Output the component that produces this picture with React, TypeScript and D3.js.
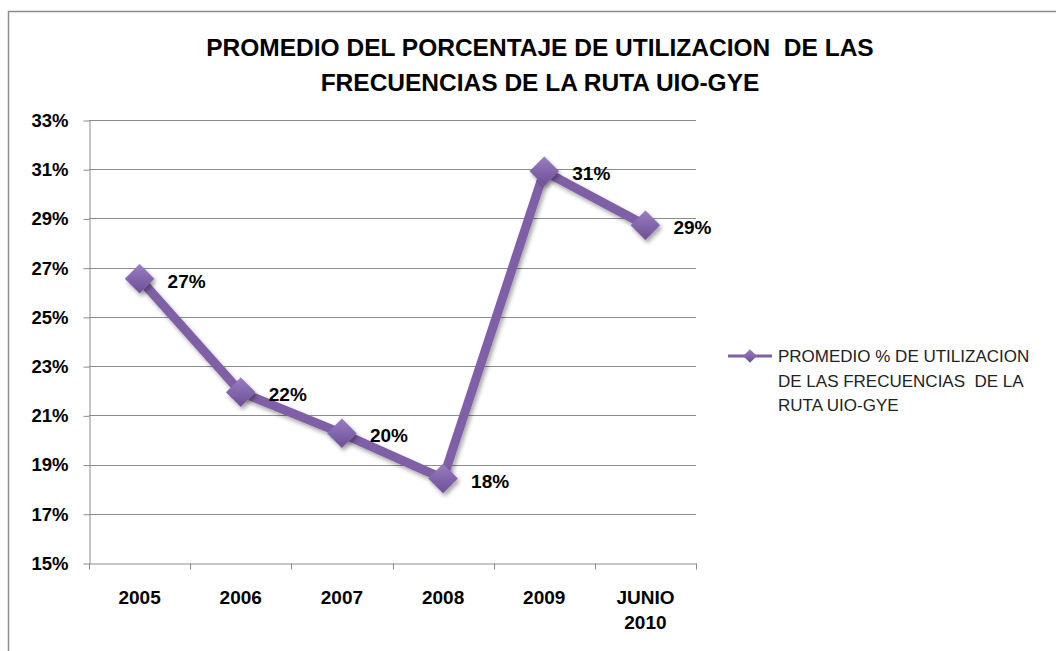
import React, { useRef, useEffect } from 'react';
import * as d3 from 'd3';

const categories = ['2005', '2006', '2007', '2008', '2009', 'JUNIO 2010'];
const values = [0.2655, 0.2194, 0.2027, 0.1843, 0.3092, 0.2872];
const yTicks = [0.15, 0.17, 0.19, 0.21, 0.23, 0.25, 0.27, 0.29, 0.31, 0.33];
const titleLines = ['PROMEDIO DEL PORCENTAJE DE UTILIZACION  DE LAS', 'FRECUENCIAS DE LA RUTA UIO-GYE'];
const legendLines = ['PROMEDIO % DE UTILIZACION', 'DE LAS FRECUENCIAS  DE LA', 'RUTA UIO-GYE'];

const FONT = '"Liberation Sans", Arial, sans-serif';
const PURPLE = '#7f61a6';

export default function App() {
    const ref = useRef<SVGSVGElement>(null);

    useEffect(() => {
        if (!ref.current) return;
        const svg = d3.select(ref.current);
        svg.selectAll('*').remove();

        const width = 1056;
        const height = 651;
        const plot = { left: 89, right: 696, top: 120, bottom: 563 };

        const defs = svg.append('defs');
        const grad = defs.append('linearGradient')
            .attr('id', 'mk').attr('x1', 0).attr('y1', 0).attr('x2', 0).attr('y2', 1);
        grad.append('stop').attr('offset', '0%').attr('stop-color', '#9a7cc2');
        grad.append('stop').attr('offset', '100%').attr('stop-color', '#6c4f96');
        const shadow = defs.append('filter').attr('id', 'sh')
            .attr('x', '-50%').attr('y', '-50%').attr('width', '200%').attr('height', '200%');
        shadow.append('feDropShadow').attr('dx', 2).attr('dy', 3).attr('stdDeviation', 2)
            .attr('flood-color', '#000').attr('flood-opacity', 0.35);

        // chart area border (only top and left visible)
        svg.append('path')
            .attr('d', `M8.5,${height + 5}V11.5H${width + 5}`)
            .attr('fill', 'none').attr('stroke', '#8c8c8c').attr('stroke-width', 1.5);

        const x = d3.scaleBand().domain(categories).range([plot.left, plot.right]);
        const y = d3.scaleLinear().domain([0.15, 0.33]).range([plot.bottom, plot.top]);

        // title
        svg.append('text')
            .attr('x', 540).attr('y', 56)
            .attr('text-anchor', 'middle')
            .style('font-family', FONT).style('font-weight', 'bold').style('font-size', '24.5px')
            .style('white-space', 'pre')
            .selectAll('tspan')
            .data(titleLines)
            .enter()
            .append('tspan')
            .attr('x', 540)
            .attr('dy', (d, i) => (i === 0 ? 0 : 35))
            .text(d => d);

        // grid lines
        svg.append('g')
            .selectAll('line')
            .data(yTicks.slice(1))
            .enter()
            .append('line')
            .attr('x1', plot.left).attr('x2', plot.right)
            .attr('y1', d => Math.round(y(d)) + 0.5).attr('y2', d => Math.round(y(d)) + 0.5)
            .attr('stroke', '#8c8c8c').attr('stroke-width', 1);

        // y axis
        const yAxis = svg.append('g')
            .attr('transform', `translate(${plot.left + 0.5},0.5)`)
            .call(d3.axisLeft(y).tickValues(yTicks).tickFormat(d3.format('.0%')).tickSize(6).tickSizeOuter(0));
        yAxis.selectAll('line, path').attr('stroke', '#8c8c8c');
        yAxis.selectAll('text')
            .attr('x', -21)
            .style('font-family', FONT).style('font-weight', 'bold').style('font-size', '18.5px')
            .attr('fill', '#000');

        // x axis
        const xAxis = svg.append('g')
            .attr('transform', `translate(0.5,${plot.bottom + 0.5})`)
            .call(d3.axisBottom(x).tickSize(0).tickSizeOuter(0));
        xAxis.select('.domain').attr('stroke', '#8c8c8c');
        xAxis.selectAll('.tick line').remove();
        xAxis.selectAll('.tick text').remove();
        xAxis.selectAll('.sep')
            .data([...categories.map(c => x(c) as number), plot.right])
            .enter()
            .append('line')
            .attr('x1', d => Math.round(d)).attr('x2', d => Math.round(d))
            .attr('y1', 0).attr('y2', 6)
            .attr('stroke', '#8c8c8c');

        const xLabels = svg.append('g')
            .selectAll('text')
            .data(categories)
            .enter()
            .append('text')
            .attr('text-anchor', 'middle')
            .style('font-family', FONT).style('font-weight', 'bold').style('font-size', '19px');
        xLabels.selectAll('tspan')
            .data(d => d.split(' ').map(t => ({ t, c: d })))
            .enter()
            .append('tspan')
            .attr('x', d => (x(d.c) as number) + x.bandwidth() / 2)
            .attr('y', (d, i) => 604 + i * 25)
            .text(d => d.t);

        // series
        const pts = values.map((v, i) => ({ c: categories[i], v }));
        const line = d3.line<{ c: string; v: number }>()
            .x(d => (x(d.c) as number) + x.bandwidth() / 2)
            .y(d => y(d.v));

        svg.append('path')
            .datum(pts)
            .attr('d', line)
            .attr('fill', 'none')
            .attr('stroke', PURPLE).attr('stroke-width', 9)
            .attr('stroke-linejoin', 'round')
            .attr('filter', 'url(#sh)');

        const diamond = d3.symbol().type(d3.symbolDiamond2).size(540);
        svg.append('g')
            .selectAll('path')
            .data(pts)
            .enter()
            .append('path')
            .attr('d', diamond)
            .attr('transform', d => `translate(${(x(d.c) as number) + x.bandwidth() / 2},${y(d.v)})`)
            .attr('fill', 'url(#mk)')
            .attr('stroke', '#8a6db3').attr('stroke-width', 0.5)
            .attr('filter', 'url(#sh)');

        // data labels
        svg.append('g')
            .selectAll('text')
            .data(pts)
            .enter()
            .append('text')
            .attr('x', d => (x(d.c) as number) + x.bandwidth() / 2 + 28)
            .attr('y', d => y(d.v) + 9)
            .text(d => d3.format('.0%')(d.v))
            .style('font-family', FONT).style('font-weight', 'bold').style('font-size', '19px');

        // legend
        const lg = svg.append('g').attr('transform', 'translate(728,356)');
        lg.append('line').attr('x1', 0).attr('x2', 44).attr('y1', 0).attr('y2', 0)
            .attr('stroke', PURPLE).attr('stroke-width', 3);
        lg.append('path')
            .attr('d', d3.symbol().type(d3.symbolDiamond2).size(120))
            .attr('transform', 'translate(22,0)')
            .attr('fill', 'url(#mk)');
        lg.append('g')
            .selectAll('text')
            .data(legendLines)
            .enter()
            .append('text')
            .attr('x', 50)
            .attr('y', (d, i) => 6 + i * 24.5)
            .text(d => d)
            .attr('fill', '#222')
            .style('font-family', FONT).style('font-size', '17px')
            .style('white-space', 'pre');
    }, []);

    return (
        <svg
            ref={ref}
            width={1056}
            height={651}
            style={{ position: 'absolute', left: 0, top: 0, background: '#fff' }}
        />
    );
}
